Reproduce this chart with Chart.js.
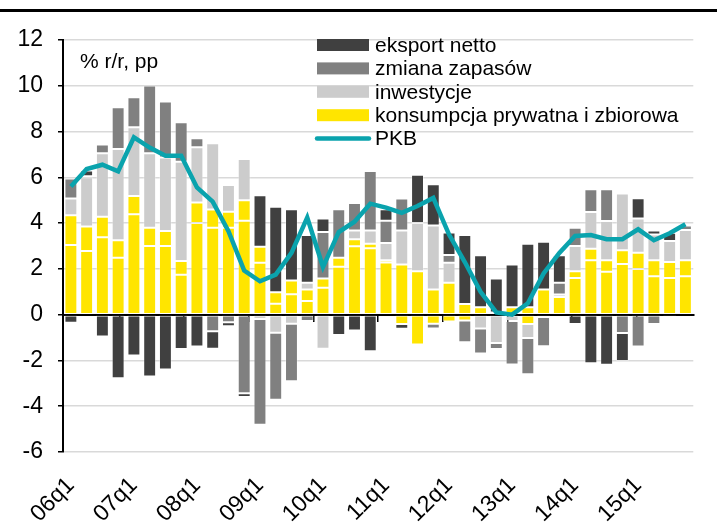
<!DOCTYPE html>
<html>
<head>
<meta charset="utf-8">
<script src="https://cdn.jsdelivr.net/npm/chart.js@4.4.0/dist/chart.umd.min.js"></script>
<style>
  html, body { margin: 0; padding: 0; background: #fff; }
  #wrap { width: 717px; height: 524px; position: relative; }
</style>
</head>
<body>
<div id="wrap"><canvas id="myChart" width="717" height="524"></canvas></div>
<script>
// kwartały 06q1 - 15q4
let quarters = [];
for (let y = 6; y <= 15; y++) {
    for (let q = 1; q <= 4; q++) {
        quarters.push((y < 10 ? '0' + y : '' + y) + 'q' + q);
    }
}

// wkłady do wzrostu PKB, pp
let konsPrywatna = [3.04, 2.78, 3.38, 2.49, 4.39, 3.0, 3.0, 1.74, 4.0, 3.8,
    3.8, 4.1, 2.27, 0.48, 0.89, 0.6, 1.18, 2.09, 2.99, 2.9,
    2.28, 2.19, 1.9, 1.1, 1.39, 0.47, 0.32, 0.1, 0.32, 0.32,
    1.1, 0.77, 1.6, 2.38, 1.88, 2.21, 2.0, 1.68, 1.6, 1.68];
let konsZbiorowa = [1.3, 1.07, 0.9, 0.76, 0.79, 0.8, 0.65, 0.6, 0.9, 0.8,
    0.7, 0.9, 0.7, 0.5, 0.6, 0.5, 0.4, 0.4, 0.3, 0.2,
    0.1, -0.41, -1.3, -0.4, -0.3, -0.25, 0, 0, 0, -0.41,
    -0.1, 0, 0.3, 0.5, 0.5, 0.6, 0.7, 0.7, 0.7, 0.7];
let inwestycje = [0.73, 2.15, 2.77, 3.99, 3.01, 3.25, 3.22, 4.34, 2.41, 2.89,
    1.17, 1.8, -0.19, -0.79, -0.4, 0.29, -1.49, 0, 0.39, 0.58,
    0.75, 1.49, 2.1, 2.8, 0.88, 0, -0.6, -1.24, -0.28, -0.61,
    0, 0.11, 1.1, 1.61, 1.71, 2.48, 1.5, 1.12, 0.92, 1.32];
let zapasy = [0.88, 0.05, 0.38, 1.82, 1.31, 2.96, 2.44, 1.73, 0.4, -0.72,
    -0.33, -3.43, -4.62, -2.93, -2.51, -0.28, 2.03, 2.12, 1.2, 2.6,
    0.97, 1.4, 0, -0.2, 0.34, -0.95, -1.1, -0.26, -1.9, -1.58,
    -1.28, 0.51, 0.8, 0.99, 1.39, -0.8, -1.39, -0.41, -0.07, 0.2];
let eksport = [-0.35, 0.25, -0.95, -2.78, -1.78, -2.7, -2.4, -1.5, -1.39, -0.77,
    -0.18, -0.17, 2.25, 3.73, 3.12, 2.09, 0.59, -0.89, -0.69, -1.6,
    0.51, -0.2, 2.11, 1.8, 0.98, 3.01, 2.28, 1.48, 1.87, 2.78,
    2.09, 1.21, -0.41, -2.12, -2.19, -1.22, 0.89, 0.18, 0.36, 0];
let pkb = [5.6, 6.36, 6.55, 6.26, 7.75, 7.3, 6.94, 6.94, 5.56, 4.94,
    3.65, 1.93, 1.46, 1.75, 2.7, 4.24, 2.08, 3.61, 4.06, 4.85,
    4.68, 4.45, 4.75, 5.1, 3.5, 2.3, 1.0, 0.1, 0.0, 0.5,
    1.8, 2.7, 3.44, 3.48, 3.3, 3.3, 3.73, 3.25, 3.56, 3.95];

const yellow = '#ffe500';
const font = 'Arial, "Liberation Sans", sans-serif';

const legendItems = [
    { label: 'eksport netto', color: '#404040' },
    { label: 'zmiana zapasów', color: '#808080' },
    { label: 'inwestycje', color: '#cccccc' },
    { label: 'konsumpcja prywatna i zbiorowa', color: yellow },
    { label: 'PKB', color: '#0aa3ad', line: true }
];

// legenda, opis jednostek i linia nad wykresem
const extras = {
    id: 'extras',
    afterDraw(chart) {
        const c = chart.ctx;
        c.save();
        c.fillStyle = '#000';
        c.fillRect(0, 9, 717, 3);

        c.font = '21px ' + font;
        c.textBaseline = 'middle';
        c.fillText('% r/r, pp', 80, 62);

        legendItems.forEach((it, i) => {
            const yc = 45 + i * 23.4;
            if (it.line) {
                c.strokeStyle = it.color;
                c.lineWidth = 4.5;
                c.lineCap = 'round';
                c.beginPath();
                c.moveTo(317, yc);
                c.lineTo(369, yc);
                c.stroke();
            } else {
                c.fillStyle = it.color;
                c.fillRect(317, yc - 6, 52, 12);
            }
            c.fillStyle = '#000';
            c.fillText(it.label, 375, yc + 1);
        });
        c.restore();
    }
};

function bars(label, data, color) {
    return {
        type: 'bar',
        label: label,
        data: data,
        backgroundColor: color,
        borderColor: 'rgba(255,255,255,0.3)',
        borderWidth: 1,
        borderSkipped: false,
        barPercentage: 0.82,
        categoryPercentage: 1,
        order: 1
    };
}

const ctx = document.getElementById('myChart');

new Chart(ctx, {
    data: {
        labels: quarters,
        datasets: [
            {
                type: 'line',
                label: 'PKB',
                data: pkb,
                borderColor: '#0aa3ad',
                borderWidth: 4.5,
                pointRadius: 0,
                tension: 0,
                stack: 'pkb',
                order: 0
            },
            bars('konsumpcja prywatna', konsPrywatna, yellow),
            bars('konsumpcja zbiorowa', konsZbiorowa, yellow),
            bars('inwestycje', inwestycje, '#cccccc'),
            bars('zmiana zapasów', zapasy, '#808080'),
            bars('eksport netto', eksport, '#404040')
        ]
    },
    options: {
        responsive: false,
        animation: false,
        layout: { padding: { top: 40, right: 6, left: 0, bottom: 0 } },
        plugins: {
            legend: { display: false },
            tooltip: { enabled: false }
        },
        scales: {
            x: {
                stacked: true,
                grid: { display: false },
                border: { display: false },
                ticks: {
                    autoSkip: false,
                    maxRotation: 45,
                    minRotation: 45,
                    color: '#000',
                    padding: 12,
                    font: { family: font, size: 23 },
                    callback: function (v, i) {
                        return i % 4 === 0 ? quarters[i] : '';
                    }
                },
                afterFit(scale) { scale.height = 72; }
            },
            x2: {
                type: 'category',
                labels: quarters,
                position: { y: 0 },
                grid: {
                    display: true,
                    offset: true,
                    drawOnChartArea: false,
                    tickLength: 6,
                    lineWidth: 1.5,
                    color: function (c) {
                        if (c.type !== 'tick') return '#000';
                        return c.index % 4 === 0 ? '#000' : 'rgba(0,0,0,0)';
                    }
                },
                border: { display: true, color: '#000', width: 2 },
                ticks: { display: false }
            },
            y: {
                stacked: true,
                min: -6,
                max: 12,
                ticks: {
                    stepSize: 2,
                    color: '#000',
                    padding: 15,
                    font: { family: font, size: 23 }
                },
                grid: {
                    color: function (c) {
                        return c.tick && c.tick.value === 0 ? 'rgba(0,0,0,0)' : '#d9d9d9';
                    },
                    lineWidth: 1.5,
                    tickColor: '#000',
                    tickLength: 5
                },
                border: { display: true, color: '#000', width: 2 },
                afterFit(scale) { scale.width = 63; }
            }
        }
    },
    plugins: [extras]
});
</script>
</body>
</html>
